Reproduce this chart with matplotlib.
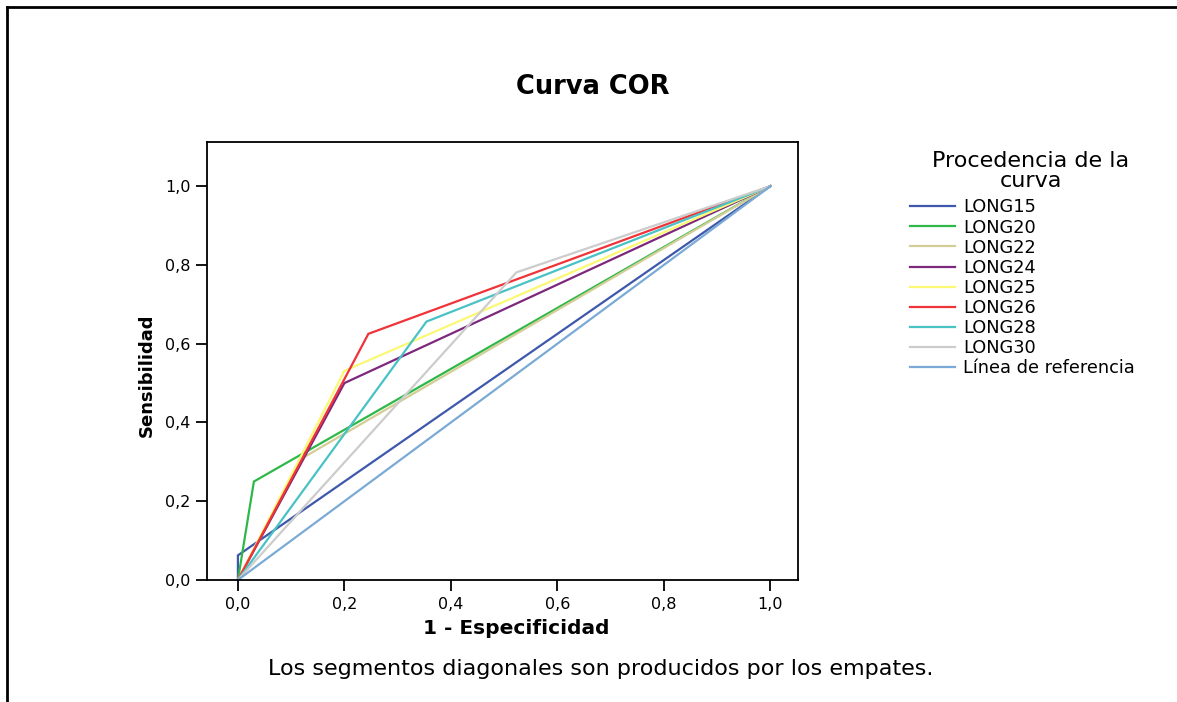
import matplotlib
matplotlib.use("Agg")
import matplotlib.pyplot as plt
from matplotlib.lines import Line2D
from matplotlib.ticker import FuncFormatter

plt.rcParams['font.family'] = ['DejaVu Sans']

# curve names and ROC points (1 - specificity, sensitivity)
names = ["LONG15", "LONG20", "LONG22", "LONG24", "LONG25",
         "LONG26", "LONG28", "LONG30", "Línea de referencia"]
fpr = [
    [0, 0, 1],
    [0, 0.03, 1],
    [0, 0.125, 1],
    [0, 0.2, 1],
    [0, 0.2, 1],
    [0, 0.245, 1],
    [0, 0.354, 1],
    [0, 0.523, 1],
    [0, 1],
]
tpr = [
    [0, 0.0625, 1],
    [0, 0.25, 1],
    [0, 0.3125, 1],
    [0, 0.5, 1],
    [0, 0.531, 1],
    [0, 0.625, 1],
    [0, 0.656, 1],
    [0, 0.781, 1],
    [0, 1],
]
colors = ["#3E58AC", "#2EB848", "#D3CE97", "#7C287D", "#FBF873",
          "#EF3338", "#48C2C5", "#CCCCCC", "#7AAAD5"]
ticks = [0.0, 0.2, 0.4, 0.6, 0.8, 1.0]

fig = plt.figure(figsize=(11.77, 7.02), dpi=100)
ax = fig.add_axes([0.1759, 0.1738, 0.5022, 0.6239])

for x, y, c, n in zip(fpr, tpr, colors, names):
    ax.plot(x, y, color=c, lw=1.6, label=n, solid_joinstyle="miter")

ax.set_xlim(-0.058, 1.052)
ax.set_ylim(0, 1.112)
ax.set_xticks(ticks)
ax.set_yticks(ticks)
comma = FuncFormatter(lambda v, p: f"{v:.1f}".replace(".", ","))
ax.xaxis.set_major_formatter(comma)
ax.yaxis.set_major_formatter(comma)
ax.tick_params(direction="out", length=8, width=1.3, labelsize=11.5, pad=4)
for s in ax.spines.values():
    s.set_linewidth(1.3)

# axis titles placed in figure coordinates
fig.text(0.439, 0.1054, "1 - Especificidad", ha="center", va="center",
         fontsize=14.5, fontweight="bold")
fig.text(0.125, 0.466, "Sensibilidad", ha="center", va="center",
         rotation=90, fontsize=13, fontweight="bold")

fig.text(0.504, 0.876, "Curva COR", ha="center", va="center",
         fontsize=18.5, fontweight="bold")
fig.text(0.510, 0.047, "Los segmentos diagonales son producidos por los empates.",
         ha="center", va="center", fontsize=16)

# legend heading drawn on its own, entries below it
fig.text(0.876, 0.757, "Procedencia de la\ncurva", ha="center", va="center",
         fontsize=16, linespacing=1.0, multialignment="center")
leg = fig.legend(loc="upper left", bbox_to_anchor=(0.766, 0.730),
                 frameon=False, fontsize=12.8, handlelength=2.5,
                 handletextpad=0.45, labelspacing=0.12, borderpad=0)

# outer border of the chart area
fig.add_artist(Line2D([0.006, 1.0], [0.990, 0.990], color="black", lw=2,
                      transform=fig.transFigure))
fig.add_artist(Line2D([0.006, 0.006], [0.0, 0.990], color="black", lw=2,
                      transform=fig.transFigure))

fig.savefig("out.png", dpi=100)
